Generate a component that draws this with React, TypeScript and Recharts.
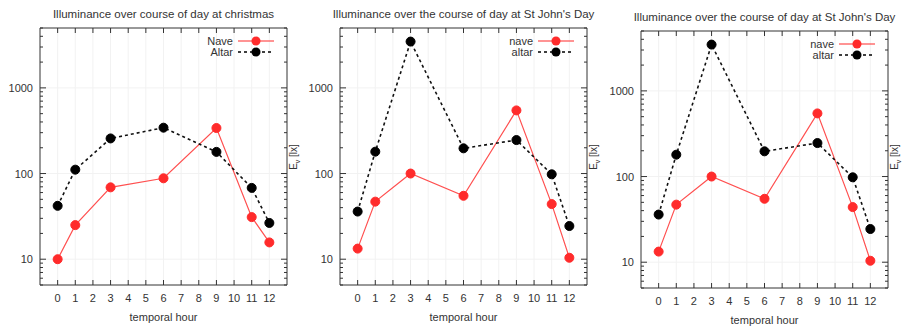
import React from "react";
import { LineChart, Line, XAxis, YAxis, CartesianGrid, Label } from "recharts";

// temporal hours that were measured
const hours = [0, 1, 3, 6, 9, 11, 12];

// illuminance in lx
const xmasNave = [10, 25, 69, 88, 340, 31, 15.7];
const xmasAltar = [42, 111, 257, 343, 179, 68, 26.5];
const johnNave = [13.3, 47, 100, 55, 546, 44, 10.4];
const johnAltar = [36, 180, 3470, 197, 246, 98, 24.4];

const hourTicks = [0, 1, 2, 3, 4, 5, 6, 7, 8, 9, 10, 11, 12];
const luxTicks = [
  5, 6, 7, 8, 9, 10, 20, 30, 40, 50, 60, 70, 80, 90, 100, 200, 300, 400, 500,
  600, 700, 800, 900, 1000, 2000, 3000, 4000, 5000,
];
const luxLabels = [10, 100, 1000];

const FONT = '"Liberation Sans", Arial, sans-serif';
const INK = "#333";
const RED = "#ff2b2b";

type TickProps = { x: number; y: number; payload: { value: number } };

const LeftTick = ({ x, y, payload }: TickProps) => {
  const major = luxLabels.includes(payload.value);
  return (
    <g>
      <line x1={x} x2={x + (major ? 6 : 3)} y1={y} y2={y} stroke={INK} />
      {major && (
        <text x={x - 7} y={y + 4} textAnchor="end" fontSize={11} fill={INK} fontFamily={FONT}>
          {payload.value}
        </text>
      )}
    </g>
  );
};

const RightTick = ({ x, y, payload }: TickProps) => {
  const major = luxLabels.includes(payload.value);
  return <line x1={x} x2={x - (major ? 6 : 3)} y1={y} y2={y} stroke={INK} />;
};

const BottomTick = ({ x, y, payload }: TickProps) => (
  <g>
    <line x1={x} x2={x} y1={y} y2={y - 5} stroke={INK} />
    <text x={x} y={y + 17} textAnchor="middle" fontSize={11} fill={INK} fontFamily={FONT}>
      {payload.value}
    </text>
  </g>
);

const TopTick = ({ x, y }: TickProps) => (
  <line x1={x} x2={x} y1={y} y2={y + 5} stroke={INK} />
);

interface PanelProps {
  left: number;
  dy: number;
  title: string;
  names: [string, string];
  nave: number[];
  altar: number[];
}

function LegendRow({ name, color, dashed, y }: { name: string; color: string; dashed: boolean; y: number }) {
  return (
    <div style={{ position: "absolute", left: 0, top: y - 7, width: 280, height: 14 }}>
      <span
        style={{
          position: "absolute",
          right: 280 - 233,
          top: 0,
          fontSize: 11,
          lineHeight: "14px",
          color: INK,
          fontFamily: FONT,
        }}
      >
        {name}
      </span>
      <svg style={{ position: "absolute", left: 237, top: 0 }} width={40} height={14}>
        <line
          x1={1}
          x2={37}
          y1={7}
          y2={7}
          stroke={color}
          strokeWidth={dashed ? 1.6 : 1.2}
          strokeDasharray={dashed ? "3 3" : undefined}
        />
        <circle cx={19} cy={7} r={4.5} fill={color} />
      </svg>
    </div>
  );
}

function Panel({ left, dy, title, names, nave, altar }: PanelProps) {
  const rows = hours.map((h, i) => ({ hour: h, nave: nave[i], altar: altar[i] }));
  return (
    <div style={{ position: "absolute", left, top: 0, width: 300, height: 326 }}>
      <div
        style={{
          position: "absolute",
          left: 0,
          width: 327,
          top: 7 + dy,
          textAlign: "center",
          fontSize: 11.5,
          lineHeight: "14px",
          color: INK,
          fontFamily: FONT,
          whiteSpace: "nowrap",
        }}
      >
        {title}
      </div>
      <LineChart
        width={300}
        height={326}
        data={rows}
        margin={{ top: 27 + dy, right: 12, bottom: 0, left: 0 }}
      >
        <CartesianGrid
          xAxisId="b"
          yAxisId="l"
          stroke="#f2f2f2"
          verticalValues={hourTicks}
          horizontalValues={luxLabels}
        />
        <XAxis
          xAxisId="b"
          dataKey="hour"
          type="number"
          domain={[-1, 13]}
          ticks={hourTicks}
          interval={0}
          height={41 - dy}
          tickSize={0}
          tickMargin={0}
          tickLine={false}
          axisLine={{ stroke: INK }}
          tick={BottomTick}
        >
          <Label
            value="temporal hour"
            position="insideBottom"
            offset={5 - dy}
            fontSize={11}
            fill={INK}
            fontFamily={FONT}
          />
        </XAxis>
        <XAxis
          xAxisId="t"
          orientation="top"
          dataKey="hour"
          type="number"
          domain={[-1, 13]}
          ticks={hourTicks}
          interval={0}
          height={1}
          tickSize={0}
          tickMargin={0}
          tickLine={false}
          axisLine={{ stroke: INK }}
          tick={TopTick}
        />
        <YAxis
          yAxisId="l"
          scale="log"
          domain={[5, 5000]}
          allowDataOverflow
          ticks={luxTicks}
          interval={0}
          width={40}
          tickSize={0}
          tickMargin={0}
          tickLine={false}
          axisLine={{ stroke: INK }}
          tick={LeftTick}
        />
        <YAxis
          yAxisId="r"
          orientation="right"
          scale="log"
          domain={[5, 5000]}
          allowDataOverflow
          ticks={luxTicks}
          interval={0}
          width={1}
          tickSize={0}
          tickMargin={0}
          tickLine={false}
          axisLine={{ stroke: INK }}
          tick={RightTick}
        />
        <Line
          xAxisId="b"
          yAxisId="l"
          dataKey="nave"
          name={names[0]}
          type="linear"
          stroke="#ff5050"
          strokeWidth={1.2}
          dot={{ r: 4.5, fill: RED, stroke: RED, strokeWidth: 1 }}
          activeDot={false}
          isAnimationActive={false}
        />
        <Line
          xAxisId="b"
          yAxisId="l"
          dataKey="altar"
          name={names[1]}
          type="linear"
          stroke="#111"
          strokeWidth={1.6}
          strokeDasharray="3 3"
          dot={{ r: 4.5, fill: "#000", stroke: "#000", strokeWidth: 1, strokeDasharray: "" }}
          activeDot={false}
          isAnimationActive={false}
        />
      </LineChart>
      <LegendRow name={names[0]} color={RED} dashed={false} y={41 + dy} />
      <LegendRow name={names[1]} color="#000" dashed y={52 + dy} />
      <div
        style={{
          position: "absolute",
          left: 294,
          top: 157,
          transform: "translate(-50%, -50%) rotate(-90deg)",
          fontSize: 10,
          color: INK,
          fontFamily: FONT,
          whiteSpace: "nowrap",
        }}
      >
        E<sub style={{ fontSize: 7 }}>v</sub> [lx]
      </div>
    </div>
  );
}

export default function App() {
  return (
    <div
      style={{
        position: "absolute",
        left: 0,
        top: 0,
        width: 903,
        height: 326,
        background: "#fff",
        overflow: "hidden",
      }}
    >
      <Panel
        left={0}
        dy={0}
        title="Illuminance over course of day at christmas"
        names={["Nave", "Altar"]}
        nave={xmasNave}
        altar={xmasAltar}
      />
      <Panel
        left={300}
        dy={0}
        title="Illuminance over the course of day at St John's Day"
        names={["nave", "altar"]}
        nave={johnNave}
        altar={johnAltar}
      />
      <Panel
        left={601}
        dy={3}
        title="Illuminance over the course of day at St John's Day"
        names={["nave", "altar"]}
        nave={johnNave}
        altar={johnAltar}
      />
    </div>
  );
}
